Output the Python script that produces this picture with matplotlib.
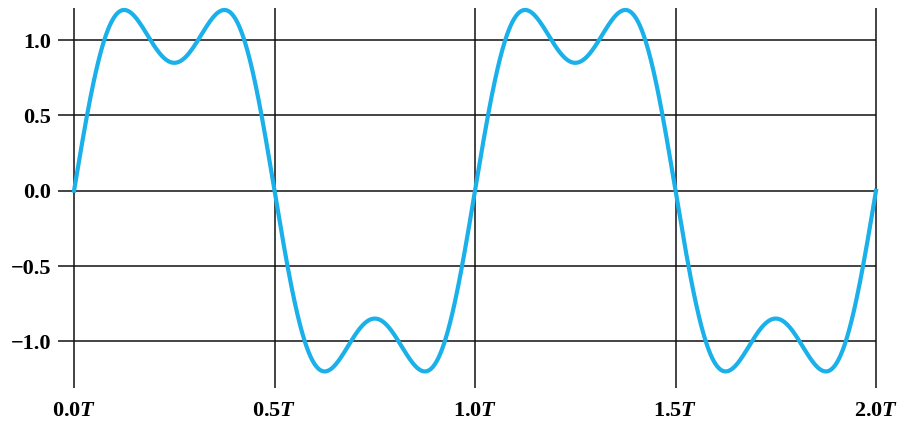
"""Two-harmonic Fourier approximation of a square wave over two periods."""

import matplotlib
matplotlib.use("Agg")
import matplotlib.pyplot as plt
import numpy as np

plt.rcParams["font.family"] = ["Liberation Serif", "DejaVu Serif"]
plt.rcParams["font.weight"] = "bold"
plt.rcParams["mathtext.fontset"] = "custom"
plt.rcParams["mathtext.it"] = "Liberation Serif:italic:bold"
plt.rcParams["mathtext.rm"] = "Liberation Serif:bold"

# harmonic numbers and their amplitudes (fundamental + 3rd harmonic)
harmonics = [1, 3]
amplitudes = [1.273, 0.424]

x_ticks = [0.0, 0.5, 1.0, 1.5, 2.0]
x_labels = ["0.0$T$", "0.5$T$", "1.0$T$", "1.5$T$", "2.0$T$"]
y_ticks = [1.0, 0.5, 0.0, -0.5, -1.0]
y_labels = ["1.0", "0.5", "0.0", "\u22120.5", "\u22121.0"]

t = np.linspace(0, 2, 2000)
y = sum(a * np.sin(2 * np.pi * n * t) for n, a in zip(harmonics, amplitudes))

fig = plt.figure(figsize=(8.97, 4.22), dpi=100)
W, H = 897, 422
x0, x1 = 58, 876
y_top, y_bot = 8, 388
ax = fig.add_axes([x0 / W, (H - y_bot) / H, (x1 - x0) / W, (y_bot - y_top) / H])

xmin, ymin, ymax = -0.04, -1.31, 1.213
ax.set_xlim(xmin, 2.0)
ax.set_ylim(ymin, ymax)

grid_kw = dict(color="#111111", linewidth=1.1, clip_on=False, zorder=1)
ax.hlines(y_ticks, xmin, 2.0, **grid_kw)
ax.vlines(x_ticks, ymin, ymax, **grid_kw)

ax.plot(t, y, color="#1ab0ea", linewidth=3.0, clip_on=False, zorder=3)

for side in ax.spines.values():
    side.set_visible(False)

ax.set_xticks(x_ticks)
ax.set_xticklabels(x_labels)
ax.set_yticks(y_ticks)
ax.set_yticklabels(y_labels)
ax.tick_params(axis="both", length=0, labelsize=16)
ax.tick_params(axis="x", pad=9)
ax.tick_params(axis="y", pad=5)

fig.savefig("out.png", dpi=100)
